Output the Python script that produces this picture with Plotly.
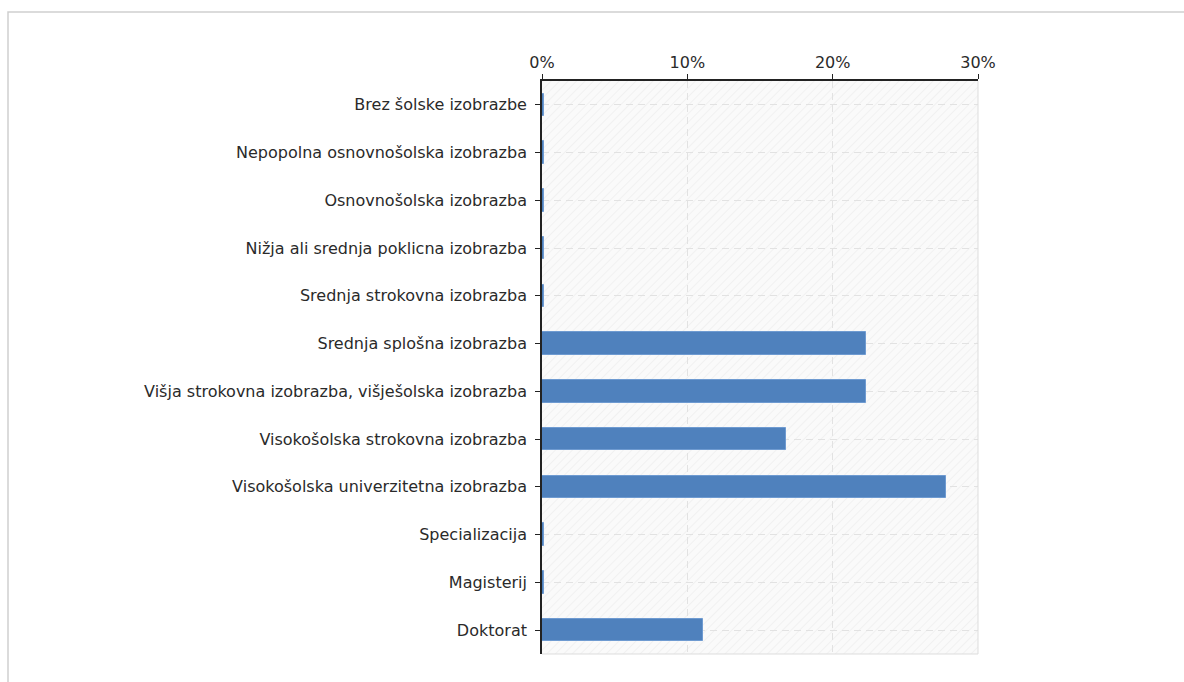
import base64
import plotly.graph_objects as go

categories = [
    "Brez šolske izobrazbe",
    "Nepopolna osnovnošolska izobrazba",
    "Osnovnošolska izobrazba",
    "Nižja ali srednja poklicna izobrazba",
    "Srednja strokovna izobrazba",
    "Srednja splošna izobrazba",
    "Višja strokovna izobrazba, višješolska izobrazba",
    "Visokošolska strokovna izobrazba",
    "Visokošolska univerzitetna izobrazba",
    "Specializacija",
    "Magisterij",
    "Doktorat",
]
values = [0.15, 0.15, 0.15, 0.15, 0.15, 22.3, 22.3, 16.8, 27.8, 0.15, 0.15, 11.1]
tick_vals = [0, 10, 20, 30]
tick_text = ["0%", "10%", "20%", "30%"]

L, R, T, B = 542, 1184 - 978, 81, 682 - 654
W, H = 978 - 542, 654 - 81

# hatch background image (svg pattern)
svg = (
    f'<svg xmlns="http://www.w3.org/2000/svg" width="{W}" height="{H}">'
    '<defs><pattern id="h" width="6" height="6" patternUnits="userSpaceOnUse" '
    'patternTransform="rotate(45)">'
    '<rect width="6" height="6" fill="#fafafa"/>'
    '<line x1="0" y1="0" x2="0" y2="6" stroke="#eeeeee" stroke-width="1.5"/>'
    '</pattern></defs>'
    f'<rect width="{W}" height="{H}" fill="url(#h)"/></svg>'
)
svg_uri = "data:image/svg+xml;base64," + base64.b64encode(svg.encode()).decode()

fig = go.Figure()
fig.add_trace(go.Bar(
    y=categories, x=values, orientation="h", width=0.47,
    marker=dict(color="#4f81bd", line=dict(color="#6f9bd1", width=1)),
    showlegend=False,
))

fig.update_layout(
    width=1184, height=682,
    margin=dict(l=L, r=R, t=T, b=B, pad=0),
    paper_bgcolor="white", plot_bgcolor="rgba(0,0,0,0)",
    bargap=0,
    font=dict(family="DejaVu Sans", size=16, color="#2a2a2a"),
    images=[dict(source=svg_uri, xref="paper", yref="paper", x=0, y=1,
                 sizex=1, sizey=1, sizing="stretch", xanchor="left",
                 yanchor="top", layer="below")],
    xaxis=dict(
        side="top", range=[0, 30], tickvals=tick_vals, ticktext=tick_text,
        showline=True, linecolor="#222222", linewidth=1.5, mirror=False,
        ticks="outside", ticklen=5, tickcolor="#222222",
        showgrid=True, gridcolor="#e2e2e2", griddash="7px,5px", gridwidth=1,
        zeroline=False, fixedrange=True,
    ),
    yaxis=dict(
        autorange="reversed", showline=True, linecolor="#222222", linewidth=1.5,
        ticks="outside", ticklen=5, tickcolor="#222222",
        showgrid=True, gridcolor="#e2e2e2", griddash="7px,5px", gridwidth=1,
        zeroline=False, fixedrange=True, ticksuffix=" ",
    ),
    shapes=[
        dict(type="rect", xref="paper", yref="paper",
             x0=(8 - L) / W, x1=(1200 - L) / W,
             y0=(654 - 700) / H, y1=(654 - 12) / H,
             line=dict(color="#cfcfcf", width=1.5), layer="below"),
        dict(type="line", xref="paper", yref="paper", x0=0, x1=1, y0=0, y1=0,
             line=dict(color="#dddddd", width=1)),
        dict(type="line", xref="paper", yref="paper", x0=1, x1=1, y0=0, y1=1,
             line=dict(color="#dddddd", width=1)),
    ],
)

fig.write_html("out.html")
